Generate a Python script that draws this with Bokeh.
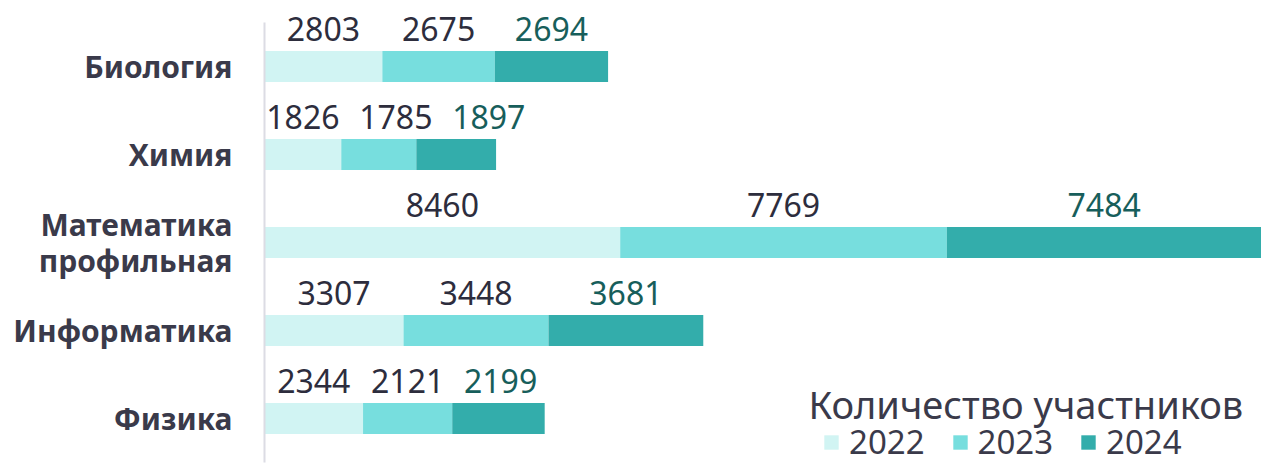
from bokeh.plotting import figure
from bokeh.models import ColumnDataSource, Range1d, Legend, LegendItem, Label, FixedTicker
from bokeh.embed import file_html
from bokeh.resources import INLINE
from bokeh.core.properties import value

subjects = ["Биология", "Химия", "Математика\nпрофильная", "Информатика", "Физика"]
years = ["2022", "2023", "2024"]
v2022 = [2803, 1826, 8460, 3307, 2344]
v2023 = [2675, 1785, 7769, 3448, 2121]
v2024 = [2694, 1897, 7484, 3681, 2199]
colors = ["#d1f4f3", "#77dede", "#33adab"]
label_colors = ["#2d2d3d", "#2d2d3d", "#175e5b"]
legend_title = "Количество участников"

FONT = "Noto Sans"
W, H, LEFT = 1261, 464, 264
LABEL_PX = 32

series = [v2022, v2023, v2024]
totals = [a + b + c for a, b, c in zip(v2022, v2023, v2024)]
n = len(subjects)
ypos = [n - 1 - i for i in range(n)]  # first subject on top

data = {"y": ypos}
for yr, s in zip(years, series):
    data[yr] = s
src = ColumnDataSource(data)

p = figure(width=W, height=H, output_backend="svg", toolbar_location=None,
           y_range=Range1d(-0.523, n - 0.25),
           x_range=Range1d(0, max(totals)),
           x_axis_location=None,
           min_border_left=LEFT, min_border_right=0, min_border_top=0, min_border_bottom=0)
p.outline_line_color = None
p.xgrid.visible = False
p.ygrid.visible = False
p.background_fill_color = "white"

renderers = p.hbar_stack(years, y="y", height=0.35, color=colors, line_color=None, source=src)

# segment labels: centred on each segment, pushed right when they would collide
px_per_unit = (W - LEFT) / max(totals)
lefts = [0] * n
prev_right = [None] * n
for i, (yr, s) in enumerate(zip(years, series)):
    xs, dxs = [], []
    for r in range(n):
        c = (lefts[r] + s[r] / 2) * px_per_unit
        w = len(str(s[r])) * 0.57 * LABEL_PX
        dx = 0.0
        if prev_right[r] is not None and c - w / 2 < prev_right[r] + 20:
            dx = prev_right[r] + 20 - (c - w / 2)
        prev_right[r] = c + dx + w / 2
        xs.append(lefts[r] + s[r] / 2)
        dxs.append(dx)
    lsrc = ColumnDataSource({"x": xs, "y": ypos, "dx": dxs, "t": [str(v) for v in s]})
    p.text(x="x", y="y", text="t", source=lsrc, text_align="center", text_baseline="alphabetic",
           x_offset="dx", y_offset=-37, text_font=value(FONT), text_font_size=f"{LABEL_PX}px",
           text_color=label_colors[i])
    lefts = [l + v for l, v in zip(lefts, s)]

ax = p.yaxis[0]
ax.ticker = FixedTicker(ticks=ypos)
ax.major_label_overrides = {yv: name for yv, name in zip(ypos, subjects)}
ax.bounds = (-0.5, n - 0.5)
ax.axis_line_color = "#dcdce4"
ax.axis_line_width = 2
ax.major_tick_line_color = None
ax.minor_tick_line_color = None
ax.major_label_standoff = 26
ax.major_label_text_font = FONT
ax.major_label_text_font_size = "30px"
ax.major_label_text_font_style = "bold"
ax.major_label_text_line_height = 0.9
ax.major_label_text_color = "#3a3a4a"

legend = Legend(items=[LegendItem(label=yr, renderers=[r]) for yr, r in zip(years, renderers)],
                orientation="horizontal", location=(558, 0),
                glyph_width=18, glyph_height=18, label_standoff=9, spacing=26,
                padding=0, margin=0, border_line_alpha=0, background_fill_alpha=0,
                label_text_font=FONT, label_text_font_size="33px", label_text_color="#3a3a4a")
p.add_layout(legend)

title = Label(x=544, y=61, x_units="screen", y_units="screen", text=legend_title,
              text_font=FONT, text_font_size="38px", text_color="#3a3a4a",
              text_baseline="alphabetic")
p.add_layout(title)

open("out.html", "w").write(file_html(p, INLINE))
